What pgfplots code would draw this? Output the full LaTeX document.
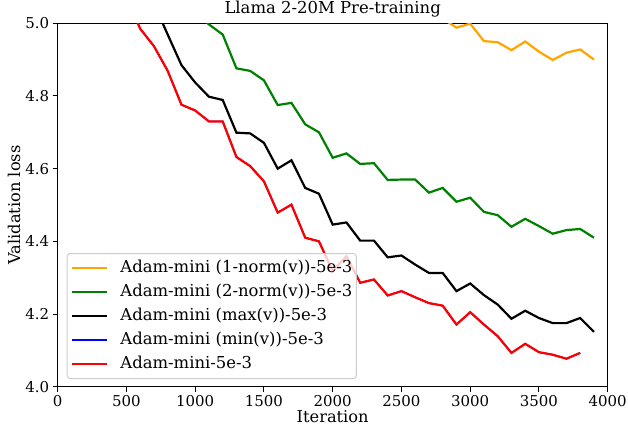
\documentclass[border=0pt]{standalone}
\usepackage{pgfplots}
\pgfplotsset{compat=1.18}
\usepackage{fontspec}
\setmainfont{DejaVu Serif}
\definecolor{mplorange}{RGB}{255,165,0}
\definecolor{mplgreen}{RGB}{0,128,0}
\definecolor{legframe}{RGB}{204,204,204}
\begin{document}
\begin{tikzpicture}
\useasboundingbox (-57.7bp,-38.3bp) rectangle (570.3bp,386.7bp);
\begin{axis}[
  at={(0,0)}, anchor=south west,
  scale only axis, width=550bp, height=363.4bp,
  xmin=0, xmax=4000, ymin=4.0, ymax=5.0,
  xtick={0,500,...,4000}, ytick={4.0,4.2,4.4,4.6,4.8,5.0},
  tick align=outside, tick pos=left, major tick length=5bp,
  axis line style={line width=1bp, black},
  every tick/.style={line width=1bp, black},
  /pgf/number format/assume math mode=true,
  tick label style={font=\fontsize{15}{18}\selectfont},
  xticklabel style={/pgf/number format/1000 sep={}},
  yticklabel style={/pgf/number format/.cd, fixed, fixed zerofill, precision=1},
  title={Llama 2-20M Pre-training},
  title style={at={(axis description cs:0.5,1.011)}, anchor=base, inner sep=0pt, font=\fontsize{16.5}{19}\selectfont},
  xlabel={Iteration},
  xlabel style={at={(axis description cs:0.5,-0.0985)}, anchor=base, inner sep=0pt, font=\fontsize{16.3}{19}\selectfont},
  ylabel={Validation loss},
  ylabel style={at={(axis description cs:-0.0682,0.5)}, anchor=base, inner sep=0pt, font=\fontsize{16.3}{19}\selectfont},
  legend style={at={(axis description cs:0.0164,0.021)}, anchor=south west,
    draw=legframe, line width=1bp, fill=white, fill opacity=0.8, text opacity=1, draw opacity=1,
    rounded corners=3bp, font=\fontsize{16.5}{19}\selectfont,
    inner xsep=4bp, inner ysep=7bp, row sep=9bp, column sep=12bp,
    nodes={inner sep=0pt, text height=12bp, text depth=3bp}},
  legend cell align=left,
  legend image code/.code={\draw[#1, line width=2.2bp] (0bp,0bp) -- (35bp,0bp);},
  every axis plot/.append style={line width=2.2bp},
]
\addplot[mplorange] coordinates {
(2800,5.013) (2900,4.988) (3000,4.999) (3100,4.951) (3200,4.948) (3300,4.926)
(3400,4.950) (3500,4.922) (3600,4.899) (3700,4.919) (3800,4.928) (3900,4.900)};
\addlegendentry{Adam-mini (1-norm(v))-5e-3}
\addplot[mplgreen] coordinates {
(1000,5.03) (1100,4.997) (1200,4.969) (1300,4.876) (1400,4.869) (1500,4.843)
(1600,4.775) (1700,4.781) (1800,4.722) (1900,4.700) (2000,4.630) (2100,4.642)
(2200,4.613) (2300,4.615) (2400,4.569) (2500,4.570) (2600,4.570) (2700,4.534)
(2800,4.547) (2900,4.509) (3000,4.520) (3100,4.481) (3200,4.472) (3300,4.440)
(3400,4.462) (3500,4.442) (3600,4.421) (3700,4.431) (3800,4.434) (3900,4.410)};
\addlegendentry{Adam-mini (2-norm(v))-5e-3}
\addplot[black] coordinates {
(700,5.054) (800,4.969) (900,4.885) (1000,4.837) (1100,4.798) (1200,4.789)
(1300,4.699) (1400,4.697) (1500,4.671) (1600,4.600) (1700,4.623) (1800,4.547)
(1900,4.531) (2000,4.446) (2100,4.452) (2200,4.402) (2300,4.402) (2400,4.356)
(2500,4.361) (2600,4.336) (2700,4.313) (2800,4.313) (2900,4.263) (3000,4.284)
(3100,4.252) (3200,4.226) (3300,4.187) (3400,4.209) (3500,4.189) (3600,4.175)
(3700,4.175) (3800,4.189) (3900,4.151)};
\addlegendentry{Adam-mini (max(v))-5e-3}
\addplot[blue, line width=1.6bp] coordinates {
(500,5.07) (600,4.985) (700,4.937) (800,4.869) (900,4.776) (1000,4.760)
(1100,4.730) (1200,4.730) (1300,4.632) (1400,4.607) (1500,4.565) (1600,4.479)
(1700,4.501) (1800,4.410) (1900,4.400) (2000,4.318) (2100,4.359) (2200,4.286)
(2300,4.295) (2400,4.251) (2500,4.263) (2600,4.246) (2700,4.230) (2800,4.223)
(2900,4.171) (3000,4.205) (3100,4.171) (3200,4.139) (3300,4.093) (3400,4.118)
(3500,4.095) (3600,4.088) (3700,4.077) (3800,4.093)};
\addlegendentry{Adam-mini (min(v))-5e-3}
\addplot[red] coordinates {
(500,5.07) (600,4.985) (700,4.937) (800,4.869) (900,4.776) (1000,4.760)
(1100,4.730) (1200,4.730) (1300,4.632) (1400,4.607) (1500,4.565) (1600,4.479)
(1700,4.501) (1800,4.410) (1900,4.400) (2000,4.318) (2100,4.359) (2200,4.286)
(2300,4.295) (2400,4.251) (2500,4.263) (2600,4.246) (2700,4.230) (2800,4.223)
(2900,4.171) (3000,4.205) (3100,4.171) (3200,4.139) (3300,4.093) (3400,4.118)
(3500,4.095) (3600,4.088) (3700,4.077) (3800,4.093)};
\addlegendentry{Adam-mini-5e-3}
\end{axis}
\end{tikzpicture}
\end{document}
